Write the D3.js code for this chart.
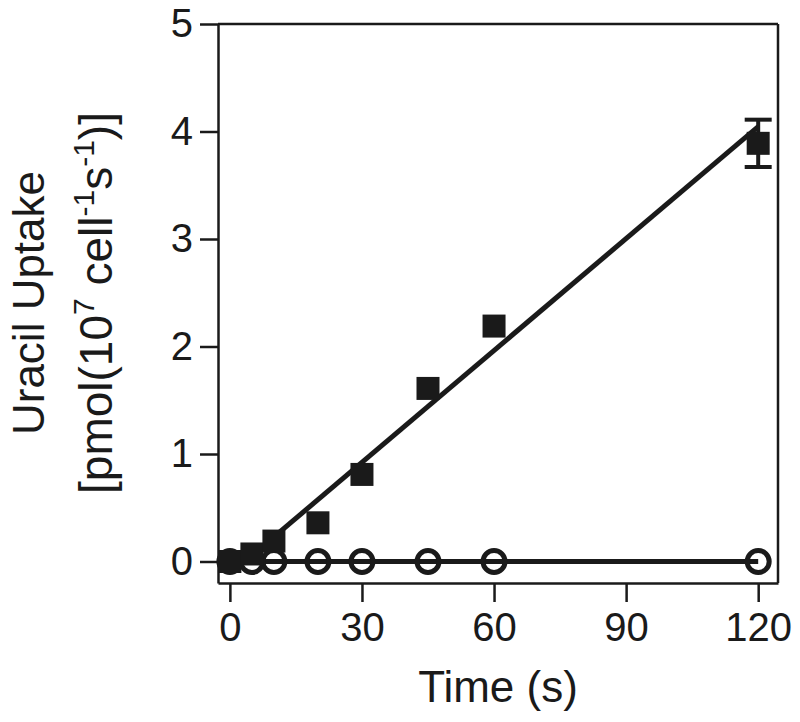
<!DOCTYPE html>
<html>
<head>
<meta charset="utf-8">
<script src="https://cdn.jsdelivr.net/npm/d3@7/dist/d3.min.js"></script>
<style>
  html, body { margin: 0; padding: 0; background: #fff; }
  svg { display: block; }
  text { font-family: "Liberation Sans", Arial, Helvetica, sans-serif; fill: #1a1a1a; }
</style>
</head>
<body>
<svg id="chart" width="800" height="722"></svg>
<script>
// ---- data ----
const timePoints   = [0, 5, 10, 20, 30, 45, 60, 120];
const uptakeFilled = [0, 0.07, 0.19, 0.36, 0.81, 1.61, 2.19, 3.89];
const errorFilled  = [0, 0, 0, 0, 0, 0, 0, 0.22];
const uptakeOpen   = [0, 0, 0, 0, 0, 0, 0, 0];
const fitX = [5, 120];
const fitY = [0.055, 4.045];
const xTicks = [0, 30, 60, 90, 120];
const yTicks = [0, 1, 2, 3, 4, 5];

(function () {
// ---- layout ----
const svg = d3.select("#chart");
const pl = 218, pr = 778, pt = 24, pb = 583;
const ink = "#1a1a1a";

const x = d3.scaleLinear().domain([-2.7, 124.5]).range([pl, pr]);
const y = d3.scaleLinear().domain([-0.2, 5]).range([pb, pt]);

// axes
const yAxis = d3.axisLeft(y).tickValues(yTicks).tickSize(18).tickSizeOuter(0).tickPadding(7).tickFormat(d3.format("d"));
const xAxis = d3.axisBottom(x).tickValues(xTicks).tickSize(19).tickSizeOuter(0).tickPadding(11).tickFormat(d3.format("d"));

const gy = svg.append("g").attr("transform", `translate(${pl},0)`).call(yAxis);
const gx = svg.append("g").attr("transform", `translate(0,${pb})`).call(xAxis);
[gx, gy].forEach(g => {
  g.selectAll("path.domain").attr("stroke", ink).attr("stroke-width", 2.5);
  g.selectAll(".tick line").attr("stroke", ink).attr("stroke-width", 2.5);
  g.selectAll(".tick text").attr("font-size", 40).style("fill", ink)
    .attr("font-family", "'Liberation Sans', Arial, sans-serif");
});
// frame top/right
svg.append("line").attr("x1", pl).attr("x2", pr).attr("y1", pt).attr("y2", pt)
  .attr("stroke", ink).attr("stroke-width", 2.5);
svg.append("line").attr("x1", pr).attr("x2", pr).attr("y1", pt).attr("y2", pb)
  .attr("stroke", ink).attr("stroke-width", 2.5);

// open circle series line
const lineGen = d3.line().x(d => x(d[0])).y(d => y(d[1]));
svg.append("path")
  .datum(timePoints.map((t, i) => [t, uptakeOpen[i]]))
  .attr("d", lineGen).attr("fill", "none").attr("stroke", ink).attr("stroke-width", 5);

// open circles
svg.append("g").selectAll("circle")
  .data(timePoints.map((t, i) => [t, uptakeOpen[i]]))
  .join("circle")
  .attr("cx", d => x(d[0])).attr("cy", d => y(d[1]))
  .attr("r", 11).attr("fill", "none").attr("stroke", ink).attr("stroke-width", 5);

// regression line for filled series
svg.append("path")
  .datum(fitX.map((t, i) => [t, fitY[i]]))
  .attr("d", lineGen).attr("fill", "none").attr("stroke", ink).attr("stroke-width", 5);

// error bars
const errData = timePoints.map((t, i) => ({t, v: uptakeFilled[i], e: errorFilled[i]})).filter(d => d.e > 0);
const eg = svg.append("g").attr("stroke", ink).attr("stroke-width", 4);
errData.forEach(d => {
  eg.append("line").attr("x1", x(d.t)).attr("x2", x(d.t)).attr("y1", y(d.v - d.e)).attr("y2", y(d.v + d.e));
  eg.append("line").attr("x1", x(d.t) - 13.5).attr("x2", x(d.t) + 13.5).attr("y1", y(d.v + d.e)).attr("y2", y(d.v + d.e));
  eg.append("line").attr("x1", x(d.t) - 13.5).attr("x2", x(d.t) + 13.5).attr("y1", y(d.v - d.e)).attr("y2", y(d.v - d.e));
});

// filled squares
const sq = 23;
svg.append("g").selectAll("rect")
  .data(timePoints.map((t, i) => [t, uptakeFilled[i]]))
  .join("rect")
  .attr("x", d => x(d[0]) - sq / 2).attr("y", d => y(d[1]) - sq / 2)
  .attr("width", sq).attr("height", sq).attr("fill", ink);

// axis titles
svg.append("text")
  .attr("x", (pl + pr) / 2).attr("y", 702)
  .attr("text-anchor", "middle").attr("font-size", 44)
  .text("Time (s)");

const cy = 303;
svg.append("text")
  .attr("transform", `translate(44,${cy}) rotate(-90)`)
  .attr("text-anchor", "middle").attr("font-size", 44)
  .text("Uracil Uptake");

const t2 = svg.append("text")
  .attr("transform", `translate(112,${cy}) rotate(-90)`)
  .attr("text-anchor", "middle").attr("font-size", 46);
t2.append("tspan").text("[pmol(10");
t2.append("tspan").attr("font-size", 30).attr("dy", -18).text("7");
t2.append("tspan").attr("dy", 18).text(" cell");
t2.append("tspan").attr("font-size", 30).attr("dy", -18).text("-1");
t2.append("tspan").attr("dy", 18).text("s");
t2.append("tspan").attr("font-size", 30).attr("dy", -18).text("-1");
t2.append("tspan").attr("dy", 18).text(")]");
})();
</script>
</body>
</html>
